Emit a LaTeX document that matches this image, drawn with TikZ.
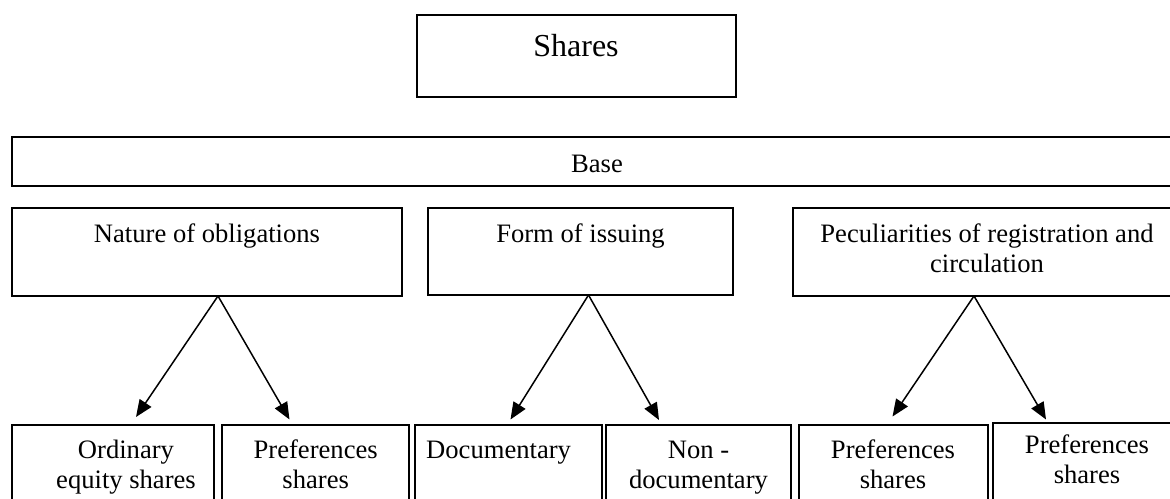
\documentclass[tikz,border=0pt]{standalone}
\usepackage{fontspec}
\setmainfont{Liberation Serif}
\usetikzlibrary{arrows.meta}
\begin{document}
\begin{tikzpicture}[x=1pt,y=-1pt,
  box/.style={draw=black, line width=2pt, rectangle, inner sep=0pt, outer sep=0pt, anchor=north west},
  txt/.style={inner sep=0pt, anchor=base, align=center, font=\fontsize{26.6}{30}\selectfont},
  arr/.style={draw=black, line width=1.5pt, -{Triangle[length=17pt,width=14pt]}}]
\useasboundingbox (0,0) rectangle (1170,498);
\clip (0,0) rectangle (1170,498);
% boxes
\node[box, minimum width=319pt, minimum height=82pt] (shares) at (417,15) {};
\node[box, minimum width=1169pt, minimum height=49pt] (base) at (12,137) {};
\node[box, minimum width=390pt, minimum height=88pt] (nature) at (12,208) {};
\node[box, minimum width=305pt, minimum height=87pt] (form) at (428,208) {};
\node[box, minimum width=388pt, minimum height=88pt] (pecul) at (793,208) {};
\node[box, minimum width=202pt, minimum height=90pt] (b1) at (12,424.5) {};
\node[box, minimum width=187pt, minimum height=90pt] (b2) at (222,424.5) {};
\node[box, minimum width=187pt, minimum height=90pt] (b3) at (415,424.5) {};
\node[box, minimum width=185pt, minimum height=90pt] (b4) at (606,424.5) {};
\node[box, minimum width=189pt, minimum height=90pt] (b5) at (799,424.5) {};
\node[box, minimum width=188pt, minimum height=92pt] (b6) at (993,422.5) {};
% texts (multi-line nodes: base anchor is the last line's baseline)
\node[txt, font=\fontsize{32}{36}\selectfont] (shares-t) at (576,56) {Shares};
\node[txt] (base-t) at (597,172.5) {Base};
\node[txt] (nature-t) at (207,242.5) {Nature of obligations};
\node[txt] (form-t) at (580.5,242.5) {Form of issuing};
\node[txt] (pecul-t) at (987,272.5) {Peculiarities of registration and\\circulation};
\node[txt] (b1-t) at (126,488) {Ordinary\\equity shares};
\node[txt] (b2-t) at (315.7,488) {Preferences\\shares};
\node[txt] (b3-t) at (498.6,458) {Documentary};
\node[txt] (b4-t) at (698.5,488) {Non -\\documentary};
\node[txt] (b5-t) at (893,488) {Preferences\\shares};
\node[txt] (b6-t) at (1087,483.5) {Preferences\\shares};
% arrows
\draw[arr] ([xshift=11pt]nature.south) -- ([xshift=23pt,yshift=7.5pt]b1.north);
\draw[arr] ([xshift=11pt]nature.south) -- ([xshift=-26pt,yshift=5pt]b2.north);
\draw[arr] ([xshift=8pt]form.south) -- ([xshift=2pt,yshift=5pt]b3.north);
\draw[arr] ([xshift=8pt]form.south) -- ([xshift=-39.5pt,yshift=4.5pt]b4.north);
\draw[arr] ([xshift=-13pt]pecul.south) -- ([xshift=-1pt,yshift=8pt]b5.north);
\draw[arr] ([xshift=-13pt]pecul.south) -- ([xshift=-41pt,yshift=3pt]b6.north);
\end{tikzpicture}
\end{document}
